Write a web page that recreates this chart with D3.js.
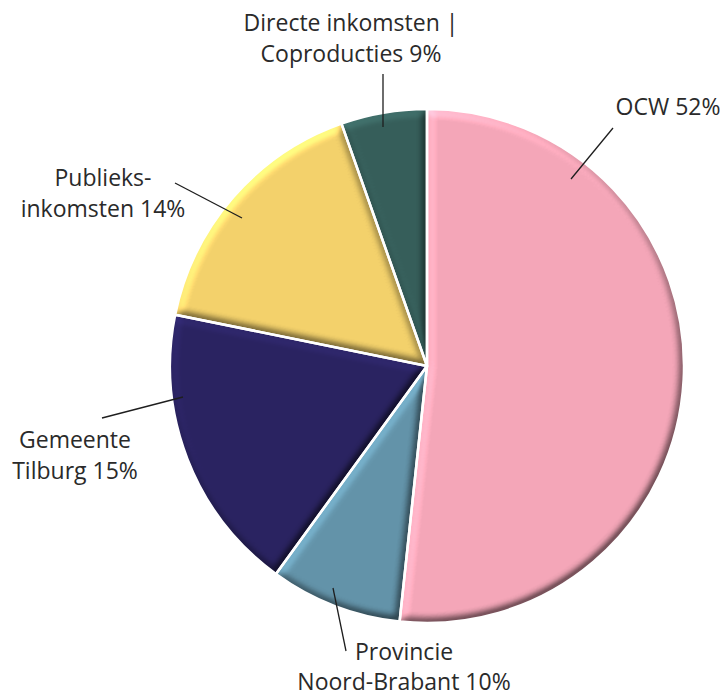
<!DOCTYPE html>
<html>
<head>
<meta charset="utf-8">
<script src="https://cdn.jsdelivr.net/npm/d3@7/dist/d3.min.js"></script>
<style>
  html, body { margin: 0; padding: 0; background: #fff; }
  svg { display: block; }
  text { font-family: "Open Sans", "DejaVu Sans", sans-serif; fill: #2a2a2a; }
</style>
</head>
<body>
<svg id="chart" width="724" height="697"></svg>
<script>
// ---- data ----
const categories = ["OCW", "Provincie Noord-Brabant", "Gemeente Tilburg", "Publieksinkomsten", "Directe inkomsten | Coproducties"];
// slice sizes as drawn in the picture (share of the full circle, %)
const values = [51.7, 8.3, 18.2, 16.4, 5.4];
// percentages printed in the labels
const labelPct = [52, 10, 15, 14, 9];
const labelLines = [
  ["OCW 52%"],
  ["Provincie", "Noord-Brabant 10%"],
  ["Gemeente", "Tilburg 15%"],
  ["Publieks-", "inkomsten 14%"],
  ["Directe inkomsten |", "Coproducties 9%"]
];
const colors = ["#F4A6B8", "#6393A9", "#2A2361", "#F3D16B", "#365E5A"];

// ---- layout (not data) ----
const W = 724, H = 697;
const cx = 427, cy = 366, R = 257;
// leader line endpoints relative to the pie centre, label anchor (x centre, first baseline)
const labelLayout = [
  { l1: [144, -187], l2: [186, -238], tx: 668, ty: 115, gap: 31 },
  { l1: [-94, 222], l2: [-81, 285], tx: 404, ty: 660, gap: 30 },
  { l1: [-244, 31], l2: [-325, 52], tx: 75, ty: 448, gap: 31 },
  { l1: [-185, -148], l2: [-252, -183], tx: 103, ty: 186, gap: 31 },
  { l1: [-44, -239], l2: [-44, -292], tx: 351, ty: 31, gap: 31 }
];

const svg = d3.select("#chart");
const defs = svg.append("defs");

// bevel filter: light from the top-left
const f = defs.append("filter").attr("id", "bevel")
  .attr("x", "-10%").attr("y", "-10%").attr("width", "120%").attr("height", "120%")
  .attr("color-interpolation-filters", "sRGB");
f.append("feGaussianBlur").attr("in", "SourceAlpha").attr("stdDeviation", 4.5).attr("result", "blur");
const el = 45;
const dl = f.append("feDiffuseLighting").attr("in", "blur").attr("surfaceScale", 7)
  .attr("diffuseConstant", 0.5 / Math.sin(el * Math.PI / 180))
  .attr("lighting-color", "#ffffff").attr("result", "light");
dl.append("feDistantLight").attr("azimuth", 235).attr("elevation", el);
f.append("feComposite").attr("in", "SourceGraphic").attr("in2", "light")
  .attr("operator", "arithmetic").attr("k1", 1.0).attr("k2", 0.5).attr("k3", 0).attr("k4", 0)
  .attr("result", "lit");
f.append("feComposite").attr("in", "lit").attr("in2", "SourceAlpha").attr("operator", "in");

const pie = d3.pie().sort(null).value(d => d)
  .startAngle(0).endAngle(2 * Math.PI);
const arcs = pie(values);
const arc = d3.arc().innerRadius(0).outerRadius(R);
const color = d3.scaleOrdinal().domain(categories).range(colors);

const g = svg.append("g").attr("transform", `translate(${cx},${cy})`);

g.selectAll("path.slice")
  .data(arcs)
  .join("path")
  .attr("class", "slice")
  .attr("d", arc)
  .attr("fill", (d, i) => color(categories[i]))
  .attr("filter", "url(#bevel)");

g.selectAll("path.sep")
  .data(arcs)
  .join("path")
  .attr("class", "sep")
  .attr("d", arc)
  .attr("fill", "none")
  .attr("stroke", "#fff")
  .attr("stroke-width", 2.5)
  .attr("stroke-linejoin", "round");

// leader lines
g.selectAll("line.leader")
  .data(labelLayout)
  .join("line")
  .attr("class", "leader")
  .attr("x1", d => d.l1[0]).attr("y1", d => d.l1[1])
  .attr("x2", d => d.l2[0]).attr("y2", d => d.l2[1])
  .attr("stroke", "#1e1e1e").attr("stroke-width", 1.3);

// labels
const lab = svg.selectAll("text.lab")
  .data(labelLines)
  .join("text")
  .attr("class", "lab")
  .attr("text-anchor", "middle")
  .attr("font-size", 23)
  .attr("x", (d, i) => labelLayout[i].tx)
  .attr("y", (d, i) => labelLayout[i].ty);
lab.each(function (lines, i) {
  d3.select(this).selectAll("tspan")
    .data(lines)
    .join("tspan")
    .attr("x", labelLayout[i].tx)
    .attr("dy", (d, j) => j === 0 ? 0 : labelLayout[i].gap)
    .text(d => d);
});
</script>
</body>
</html>
